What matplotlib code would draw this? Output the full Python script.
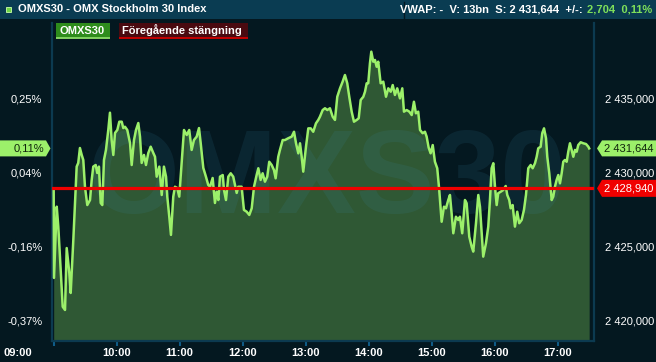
import matplotlib.pyplot as plt
import matplotlib.patches as patches
import numpy as np

plt.rcParams['font.family'] = ['Liberation Sans', 'DejaVu Sans']

# minutes after 09:00 and OMXS30 index level
minutes = [0, 0.3, 2.9, 4.4, 6.7, 8.6, 10.8, 12.4, 14.9, 16.2, 18.7, 20.3, 21.9, 23.4, 25.0, 26.7,
           28.2, 29.8, 32.0, 34.6, 36.2, 37.7, 40.0, 41.5, 43.1, 44.8, 46.3, 47.9, 49.8, 52.0, 53.6,
           55.2, 56.8, 58.4, 60.6, 62.5, 64.8, 66.3, 67.9, 70.1, 72.7, 74.3, 76.5, 78.4, 80.6, 82.2,
           83.8, 86.0, 87.9, 90.1, 92.4, 94.9, 96.5, 98.1, 100.6, 102.9, 105.0, 107.0, 108.2, 110.1,
           111.7, 113.9, 115.5, 117.7, 119.6, 121.9, 124.1, 126.7, 129.1, 131.4, 133.6, 136.2, 138.4,
           140.0, 142.5, 145.0, 147.2, 148.9, 151.4, 153.6, 155.2, 156.8, 158.4, 161.0, 162.2, 164.1,
           166.3, 168.6, 171.0, 174.3, 175.8, 179.0, 181.2, 183.8, 186.3, 188.6, 190.8, 193.3, 194.9,
           197.1, 199.0, 201.2, 203.4, 205.3, 207.6, 209.8, 211.4, 213.9, 215.5, 218.1, 220.3, 223.4,
           226.7, 228.9, 230.8, 233.0, 234.6, 236.2, 237.7, 240.3, 242.5, 244.8, 247.2, 249.8, 252.0,
           253.6, 256.2, 258.4, 260.6, 263.1, 265.7, 267.9, 270.1, 272.7, 275.2, 277.4, 279.6, 281.5,
           283.8, 286.0, 288.6, 290.5, 292.4, 294.9, 296.5, 298.1, 299.6, 301.2, 302.5, 304.4, 306.0,
           307.6, 309.1, 311.4, 313.9, 316.5, 318.7, 321.0, 322.9, 325.0, 327.2, 329.8, 332.0, 333.6,
           336.2, 338.7, 341.0, 343.1, 345.0, 347.2, 348.9, 351.4, 353.6, 355.2, 357.1, 359.0, 361.0,
           363.1, 365.3, 367.2, 369.5, 371.7, 373.6, 375.8, 377.4, 379.0, 380.6, 383.1, 385.3, 386.9,
           389.1, 391.7, 393.3, 395.8, 398.1, 399.6, 402.2, 404.4, 406.0, 407.6, 409.1, 411.7, 413.9,
           415.5, 417.1, 418.7, 420.3, 421.9, 423.4, 425.7, 428.2, 430.5, 432.0, 433.9, 435.2, 437.1,
           439.3, 441.5, 443.4, 445.7, 447.9, 449.8, 452.0, 454.3, 456.2, 458.4, 460.0, 461.5, 463.8,
           465.3, 467.0, 468.9, 470.1, 472.0, 474.3, 475.8, 477.4, 479.0, 480.6, 482.2, 483.8, 485.3,
           486.9, 488.6, 490.1, 491.7, 493.3, 494.9, 496.5, 498.1, 499.6, 501.9, 504.4, 507.0, 509.2,
           510.0]
index_values = [2428.90, 2422.88, 2427.70, 2426.35, 2423.42, 2420.93, 2420.71, 2424.90, 2423.21,
                2421.86, 2425.44, 2427.95, 2430.41, 2430.66, 2431.67, 2431.20, 2430.86, 2429.05,
                2427.81, 2428.15, 2429.51, 2430.41, 2430.52, 2429.98, 2430.41, 2427.95, 2427.81,
                2430.86, 2431.54, 2432.89, 2434.06, 2432.21, 2431.20, 2432.69, 2432.89, 2433.45,
                2433.45, 2433.02, 2433.11, 2432.89, 2432.01, 2430.52, 2432.21, 2432.89, 2433.36,
                2432.44, 2430.66, 2431.20, 2430.52, 2431.33, 2431.76, 2431.33, 2431.08, 2429.73,
                2430.41, 2428.49, 2430.41, 2429.73, 2428.38, 2427.02, 2425.79, 2428.38, 2429.05,
                2428.96, 2428.38, 2430.66, 2432.89, 2432.55, 2432.89, 2431.54, 2432.21, 2432.44,
                2433.02, 2432.01, 2430.32, 2429.73, 2429.17, 2429.05, 2429.64, 2427.95, 2428.71,
                2428.15, 2429.73, 2429.84, 2428.83, 2428.15, 2429.73, 2429.96, 2429.73, 2428.63,
                2429.05, 2429.05, 2427.48, 2427.36, 2427.14, 2427.59, 2429.05, 2429.84, 2430.30,
                2429.51, 2429.96, 2429.39, 2429.73, 2430.74, 2430.52, 2430.18, 2429.62, 2431.08,
                2431.54, 2432.21, 2432.21, 2432.33, 2432.44, 2432.77, 2431.99, 2431.31, 2431.99,
                2431.08, 2430.07, 2431.76, 2433.00, 2433.00, 2432.77, 2433.34, 2433.57, 2433.79,
                2434.24, 2434.36, 2434.24, 2434.36, 2433.79, 2433.57, 2435.14, 2435.71, 2436.16,
                2436.61, 2436.05, 2435.14, 2434.13, 2433.45, 2433.57, 2433.68, 2434.92, 2435.14,
                2435.48, 2436.05, 2436.05, 2437.40, 2438.19, 2437.51, 2437.63, 2437.17, 2437.51,
                2436.05, 2436.16, 2435.14, 2435.71, 2435.48, 2435.93, 2435.26, 2435.71, 2435.03,
                2435.71, 2434.13, 2434.24, 2434.13, 2433.90, 2434.80, 2434.02, 2434.13, 2432.89,
                2432.67, 2432.77, 2432.44, 2431.70, 2431.31, 2431.87, 2430.74, 2430.30, 2428.83,
                2426.68, 2427.70, 2427.59, 2428.15, 2428.49, 2427.25, 2425.90, 2427.02, 2426.80,
                2427.02, 2425.90, 2428.15, 2427.93, 2425.67, 2424.99, 2424.66, 2426.58, 2428.49,
                2427.70, 2425.90, 2424.32, 2425.22, 2426.35, 2428.15, 2430.30, 2430.64, 2429.05,
                2427.81, 2428.61, 2428.71, 2428.83, 2429.10, 2428.49, 2428.15, 2427.59, 2427.81,
                2426.35, 2427.36, 2426.58, 2426.80, 2427.48, 2428.49, 2430.30, 2430.52, 2430.30,
                2430.64, 2431.08, 2431.65, 2431.76, 2432.67, 2433.00, 2432.33, 2431.08, 2429.96,
                2428.15, 2428.38, 2429.05, 2429.51, 2429.84, 2429.28, 2429.96, 2430.74, 2430.86,
                2430.74, 2431.42, 2431.99, 2431.54, 2431.08, 2431.54, 2431.42, 2431.87, 2432.06,
                2431.99, 2431.94, 2431.76, 2431.644]
prev_close = 2428.94
volume_text = "13bn"
y_ticks = [2420, 2425, 2430, 2435]
hour_ticks = [0, 60, 120, 180, 240, 300, 360, 420, 480]
hour_labels = ["", "10:00", "11:00", "12:00", "13:00", "14:00", "15:00", "16:00", "17:00"]

BG = '#041820'
HEADER = '#0a3c52'
BORDER = '#0c3a50'
LINE = '#9cf06a'
FILL = '#2f5834'
RED = '#f00000'

W, H = 656, 362


def fx(x):
    return x / W


def fy(y):
    return 1 - y / H


def sv(v, dec=3):
    return f"{v:,.{dec}f}".replace(",", " ").replace(".", ",")


fig = plt.figure(figsize=(W / 100, H / 100), dpi=100)
fig.patch.set_facecolor(BG)

ax = fig.add_axes([fx(52), fy(341), (594 - 52) / W, (341 - 23) / H])
ax.set_facecolor(BG)
ax.set_xlim(-1.6, 514.6)
ax.set_ylim(2418.61, 2440.13)

ax.fill_between(minutes, index_values, 2418.61, color=FILL, lw=0, zorder=1)
ax.text(0.507, 0.5, "OMXS30", transform=ax.transAxes, ha='center', va='center',
        fontsize=85, fontweight='bold', color='#3c8fb4', alpha=0.12, zorder=2)
ax.plot(minutes, index_values, color=LINE, lw=1.8, zorder=3)
ax.axhline(prev_close, color=RED, lw=2.3, zorder=4)

ax.spines['top'].set_visible(False)
for s in ['left', 'right', 'bottom']:
    ax.spines[s].set_color(BORDER)
    ax.spines[s].set_linewidth(1.6)

ax.set_xticks(hour_ticks, hour_labels)
ax.tick_params(axis='x', direction='out', length=3.5, width=1.5, color='#0f5c88',
               pad=1.5, labelsize=8, labelcolor='white')
for lab in ax.get_xticklabels():
    lab.set_fontweight('bold')
fig.text(fx(3), fy(352.5), "09:00", ha='left', va='center', fontsize=8,
         fontweight='bold', color='white')

ax.yaxis.tick_right()
ax.set_yticks(y_ticks, [sv(v) for v in y_ticks])
ax.tick_params(axis='y', length=0, pad=8, labelsize=8, labelcolor='white')

sec = ax.secondary_yaxis('left', functions=(lambda v: (v - prev_close) / prev_close * 100,
                                            lambda p: prev_close * (1 + p / 100)))
pcts = [(v - prev_close) / prev_close * 100 for v in y_ticks]
sec.set_yticks(pcts, [f"{p:.2f}%".replace(".", ",") for p in pcts])
sec.tick_params(length=0, pad=7, labelsize=8, labelcolor='white')
sec.spines['left'].set_visible(False)

# header bar
fig.add_artist(patches.Rectangle((0, fy(19)), 1, 19 / H, transform=fig.transFigure,
                                 color=HEADER, lw=0))
fig.add_artist(patches.Rectangle((fx(6), fy(12)), 5 / W, 5 / H, transform=fig.transFigure,
                                 facecolor='#6fd646', edgecolor='#b8f29c', lw=0.7))
fig.text(fx(18), fy(9.5), "OMXS30 - OMX Stockholm 30 Index", va='center', fontsize=8,
         fontweight='bold', color='white')
fig.add_artist(plt.Line2D([fx(404), fx(404)], [fy(2), fy(18)], transform=fig.transFigure,
                          color=BG, lw=1))
last = index_values[-1]
change = last - prev_close
pct = change / prev_close * 100
green_txt = fig.text(fx(652), fy(9.5), f"{sv(change)}  {sv(pct, 2)}%", ha='right',
                     va='center', fontsize=8, fontweight='bold', color='#7ee05a')
fig.canvas.draw()
gx0 = green_txt.get_window_extent().x0
fig.text((gx0 - 1) / W, fy(9.5), f"VWAP: -  V: {volume_text}  S: {sv(last)}  +/-: ",
         ha='right', va='center', fontsize=8, fontweight='bold', color='white')

# legend boxes
for x0, x1, face, under, label in [(56, 110, '#2e8c1c', '#7fcf5f', "OMXS30"),
                                   (119, 248, '#4a0a10', '#c00000', "Föregående stängning")]:
    fig.add_artist(patches.Rectangle((fx(x0), fy(39)), (x1 - x0) / W, 16 / H,
                                     transform=fig.transFigure, color=face, lw=0))
    fig.add_artist(patches.Rectangle((fx(x0), fy(39)), (x1 - x0) / W, 1.5 / H,
                                     transform=fig.transFigure, color=under, lw=0))
    fig.text(fx(x0 + 3), fy(30.5), label, va='center', fontsize=8, fontweight='bold',
             color='white')


# value tags
def ytop(v):
    return H - ax.transData.transform((0, v))[1]


def tag(yc, xs, face, text, tcolor, tx, ha):
    verts = [(fx(x), fy(yc + dy)) for x, dy in xs]
    fig.add_artist(patches.Polygon(verts, closed=True, transform=fig.transFigure,
                                   color=face, lw=0))
    fig.text(fx(tx), fy(yc), text, ha=ha, va='center', fontsize=8, color=tcolor)


yl = ytop(last)
tag(yl, [(0, -8), (46, -8), (50.5, 0), (46, 8), (0, 8)], LINE, f"{sv(pct, 2)}%", '#10240c',
    44, 'right')
tag(yl, [(597, 0), (602, -8), (656, -8), (656, 8), (602, 8)], LINE, sv(last), '#10240c',
    604, 'left')
yr = ytop(prev_close)
tag(yr, [(597, 0), (602, -8.5), (656, -8.5), (656, 8.5), (602, 8.5)], RED, sv(prev_close),
    'white', 604, 'left')

fig.savefig('out.png', dpi=100, facecolor=BG)
